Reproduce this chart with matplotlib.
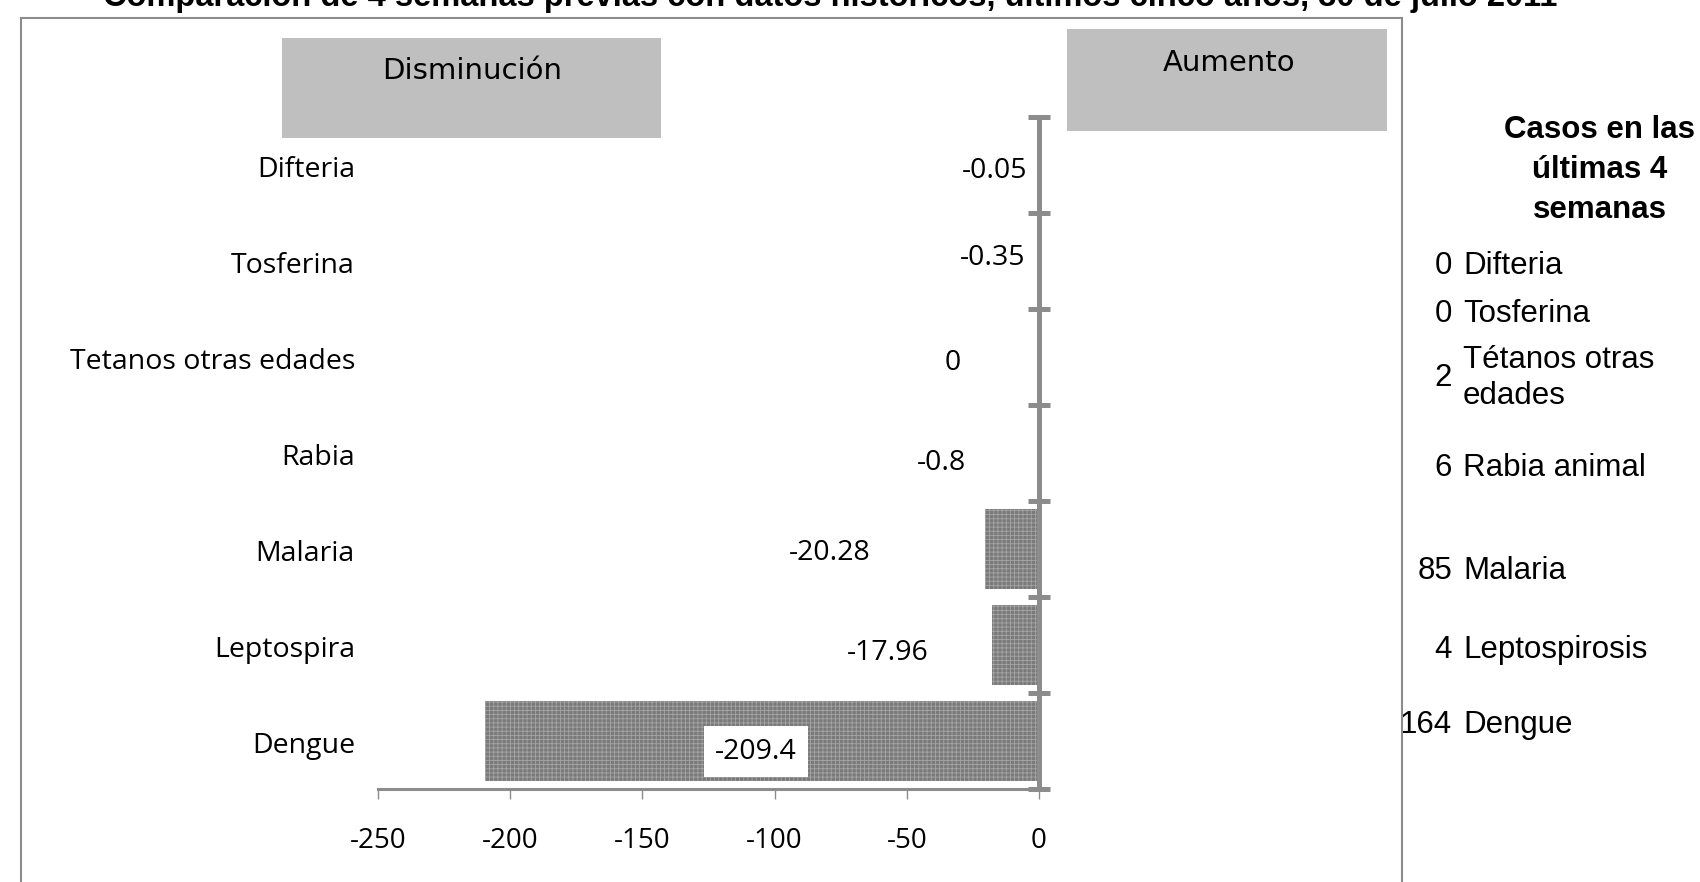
import numpy as np
import matplotlib
matplotlib.use('Agg')
import matplotlib.pyplot as plt
import matplotlib.transforms as mtransforms
from matplotlib.patches import Rectangle

# Datos
categorias = ['Difteria', 'Tosferina', 'Tetanos otras edades', 'Rabia',
              'Malaria', 'Leptospira', 'Dengue']
cambio = [-0.05, -0.35, 0, -0.8, -20.28, -17.96, -209.4]
etiquetas = ['-0.05', '-0.35', '0', '-0.8', '-20.28', '-17.96', '-209.4']

casos = [0, 0, 2, 6, 85, 4, 164]
casos_nombres = ['Difteria', 'Tosferina', 'Tétanos otras\nedades', 'Rabia animal',
                 'Malaria', 'Leptospirosis', 'Dengue']

xticks = [-250, -200, -150, -100, -50, 0]

titulo = ('Comparación de 4 semanas previas con datos históricos, '
          'últimos cinco años, 30 de julio 2011')

# posiciones de las etiquetas (arrastradas a mano en el original)
lab_x = [-4.5, -5.3, -32.5, -27.6, -63.5, -41.6, -107]
lab_dy = [0.06, -0.03, 0.06, 0.1, 0.04, 0.08, 0.11]
lab_ha = ['right', 'right', 'center', 'right', 'right', 'right', 'center']
# posiciones verticales de la tabla de la derecha (pixeles desde arriba)
tabla_y = [266, 314, 378, 468, 571, 650, 725]

W, H = 1700, 882
fig = plt.figure(figsize=(17, 8.82), dpi=100)
plt.rcParams['hatch.linewidth'] = 0.6

ax = fig.add_axes([378 / W, (H - 789) / H, (1039 - 378) / W, (789 - 117) / H])

y = np.arange(len(categorias))
ax.barh(y, cambio, height=0.84, color='#7a7a7a', edgecolor='#a5a5a5',
        hatch='++++', linewidth=0)

ax.set_xlim(-250, 0)
ax.set_ylim(len(categorias) - 0.5, -0.5)

for s in ['top', 'left']:
    ax.spines[s].set_visible(False)
ax.spines['bottom'].set_color('#8c8c8c')
ax.spines['bottom'].set_linewidth(2.2)
ax.spines['right'].set_color('#8c8c8c')
ax.spines['right'].set_linewidth(3.6)

ax.set_xticks(xticks)
ax.set_xticklabels([str(t) for t in xticks], fontfamily='Open Sans', fontsize=20)
ax.tick_params(axis='x', direction='out', length=7, width=1, color='#8c8c8c', pad=20)

ax.yaxis.set_ticks_position('right')
ax.set_yticks(np.arange(-0.5, len(categorias), 1.0))
ax.set_yticklabels([])
ax.tick_params(axis='y', direction='inout', length=16, width=3.6, color='#8c8c8c')

# etiquetas de categoria
trans = mtransforms.blended_transform_factory(fig.transFigure, ax.transData)
for i, c in enumerate(categorias):
    ax.text(355 / W, i + 0.05, c, transform=trans, ha='right', va='center',
            fontfamily='Open Sans', fontsize=20.5, clip_on=False)

# etiquetas de datos
for i, lab in enumerate(etiquetas):
    kw = {}
    if i == len(etiquetas) - 1:
        kw['bbox'] = dict(facecolor='white', edgecolor='none', pad=8)
    ax.text(lab_x[i], i + lab_dy[i], lab, ha=lab_ha[i], va='center',
            fontfamily='Open Sans', fontsize=20.5, **kw)

# cajas de encabezado
fig.patches.append(Rectangle((282 / W, (H - 138) / H), (661 - 282) / W, 100 / H,
                             transform=fig.transFigure, facecolor='#bfbfbf',
                             edgecolor='none'))
fig.patches.append(Rectangle((1067 / W, (H - 131) / H), (1387 - 1067) / W, 102 / H,
                             transform=fig.transFigure, facecolor='#bfbfbf',
                             edgecolor='none'))
fig.text(472 / W, 1 - 71 / H, 'Disminución', ha='center', va='center',
         fontfamily='DejaVu Sans', fontsize=21)
fig.text(1229 / W, 1 - 63 / H, 'Aumento', ha='center', va='center',
         fontfamily='DejaVu Sans', fontsize=21)

# marco
fig.patches.append(Rectangle((21 / W, -0.05), (1402 - 21) / W, 1.05 - 18 / H,
                             transform=fig.transFigure, fill=False,
                             edgecolor='#8c8c8c', linewidth=1.5, zorder=5))

# titulo (cortado arriba como en el original)
fig.text(830 / W, 1 - 6 / H, titulo, ha='center', va='baseline',
         fontfamily='Liberation Sans', fontweight='bold', fontsize=23.5)

# tabla de la derecha
fig.text(1600 / W, 1 - 170 / H, 'Casos en las\núltimas 4\nsemanas', ha='center',
         va='center', fontfamily='Liberation Sans', fontweight='bold',
         fontsize=22.5, linespacing=1.42)
for n, nombre, yy in zip(casos, casos_nombres, tabla_y):
    fig.text(1452 / W, 1 - yy / H, str(n), ha='right', va='center',
             fontfamily='Liberation Sans', fontsize=22.5)
    fig.text(1463 / W, 1 - yy / H, nombre, ha='left', va='center',
             fontfamily='Liberation Sans', fontsize=22.5, linespacing=1.3)

fig.savefig('out.png', dpi=100)
